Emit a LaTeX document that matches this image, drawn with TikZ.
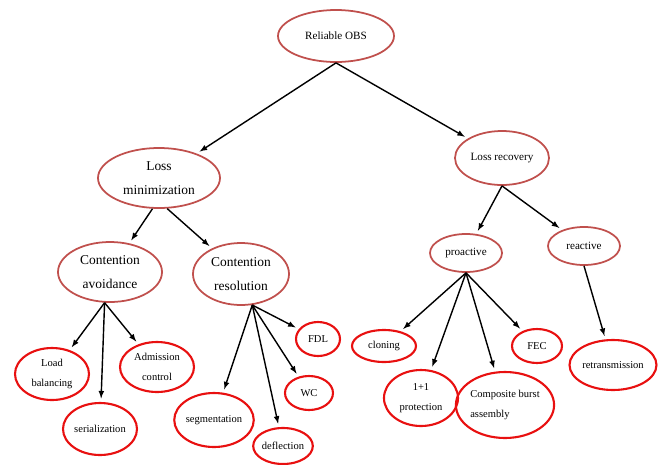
\documentclass[tikz,border=0pt]{standalone}
\usepackage{fontspec}
\setmainfont{Liberation Serif}
\usetikzlibrary{shapes.geometric}

\definecolor{dullred}{RGB}{192,80,77}
\definecolor{brightred}{RGB}{232,16,16}

\begin{document}
\begin{tikzpicture}[x=0.03cm, y=-0.03cm,
  oval/.style 2 args={ellipse, inner sep=0pt, align=center,
    minimum width=#1*0.03cm, minimum height=#2*0.03cm},
  upper/.style={draw=dullred, line width=1.5pt, font=\fontsize{9.5}{17}\selectfont},
  bigger/.style={font=\fontsize{11.5}{20}\selectfont},
  leaf/.style={draw=brightred, line width=1.8pt, font=\fontsize{9}{17}\selectfont},
  arr/.style={->, >=latex, line width=1.2pt, shorten >=3pt}]

\useasboundingbox (0,0) rectangle (664,464);

% Top levels
\node [upper, oval={116}{52}] (obs) at (336,36) {Reliable OBS};
\node [upper, bigger, oval={122}{60}] (lmin) at (159,178) {Loss\\minimization};
\node [upper, oval={94}{54}] (lrec) at (502,158) {Loss recovery};

\node [upper, bigger, oval={104}{60}] (cavoid) at (110,272) {Contention\\avoidance};
\node [upper, bigger, oval={96}{62}] (cres) at (241,274) {Contention\\resolution};
\node [upper, oval={72}{38}] (proact) at (466,253) {proactive};
\node [upper, oval={72}{38}] (react) at (584,246) {reactive};

% Leaves
\node [leaf, oval={74}{52}] (load) at (52,374) {Load\\balancing};
\node [leaf, oval={74}{52}] (serial) at (100,429) {serialization};
\node [leaf, oval={74}{50}] (admit) at (157,367) {Admission\\control};

\node [leaf, oval={72}{54}] (segm) at (214,420) {segmentation};
\node [leaf, oval={50}{36}] (defl) at (283,446) {deflection};
\node [leaf, oval={48}{34}] (wc) at (309,393) {WC};
\node [leaf, oval={44}{34}] (fdl) at (318,339) {FDL};

\node [leaf, oval={64}{32}] (clon) at (384,346) {cloning};
\node [leaf, oval={74}{56}] (prot) at (421,398) {1+1\\protection};
\node [leaf, oval={84}{66}, align=left] (comp) at (505,405) {Composite burst\\assembly};
\node [leaf, oval={50}{34}] (fec) at (537,346) {FEC};
\node [leaf, oval={84}{50}] (retx) at (613,365) {retransmission};

% Connectors
\draw [arr] (obs.south) -- (lmin);
\draw [arr] (obs.south) -- (lrec);

\draw [arr] (lmin.258) -- (cavoid);
\draw [arr] (lmin.285) -- (cres);
\draw [arr] (lrec.south) -- (proact);
\draw [arr] (lrec.south) -- (react);

\draw [arr] (cavoid.260) -- (load);
\draw [arr] (cavoid.260) -- (serial);
\draw [arr] (cavoid.260) -- (admit);

\draw [arr] (cres.290) -- (segm);
\draw [arr] (cres.290) -- (defl);
\draw [arr] (cres.290) -- (wc);
\draw [arr] (cres.290) -- (fdl);

\draw [arr] (proact.south) -- (clon);
\draw [arr] (proact.south) -- (prot);
\draw [arr] (proact.south) -- (comp);
\draw [arr] (proact.south) -- (fec);

\draw [arr] (react.south) -- (retx);

\end{tikzpicture}
\end{document}
